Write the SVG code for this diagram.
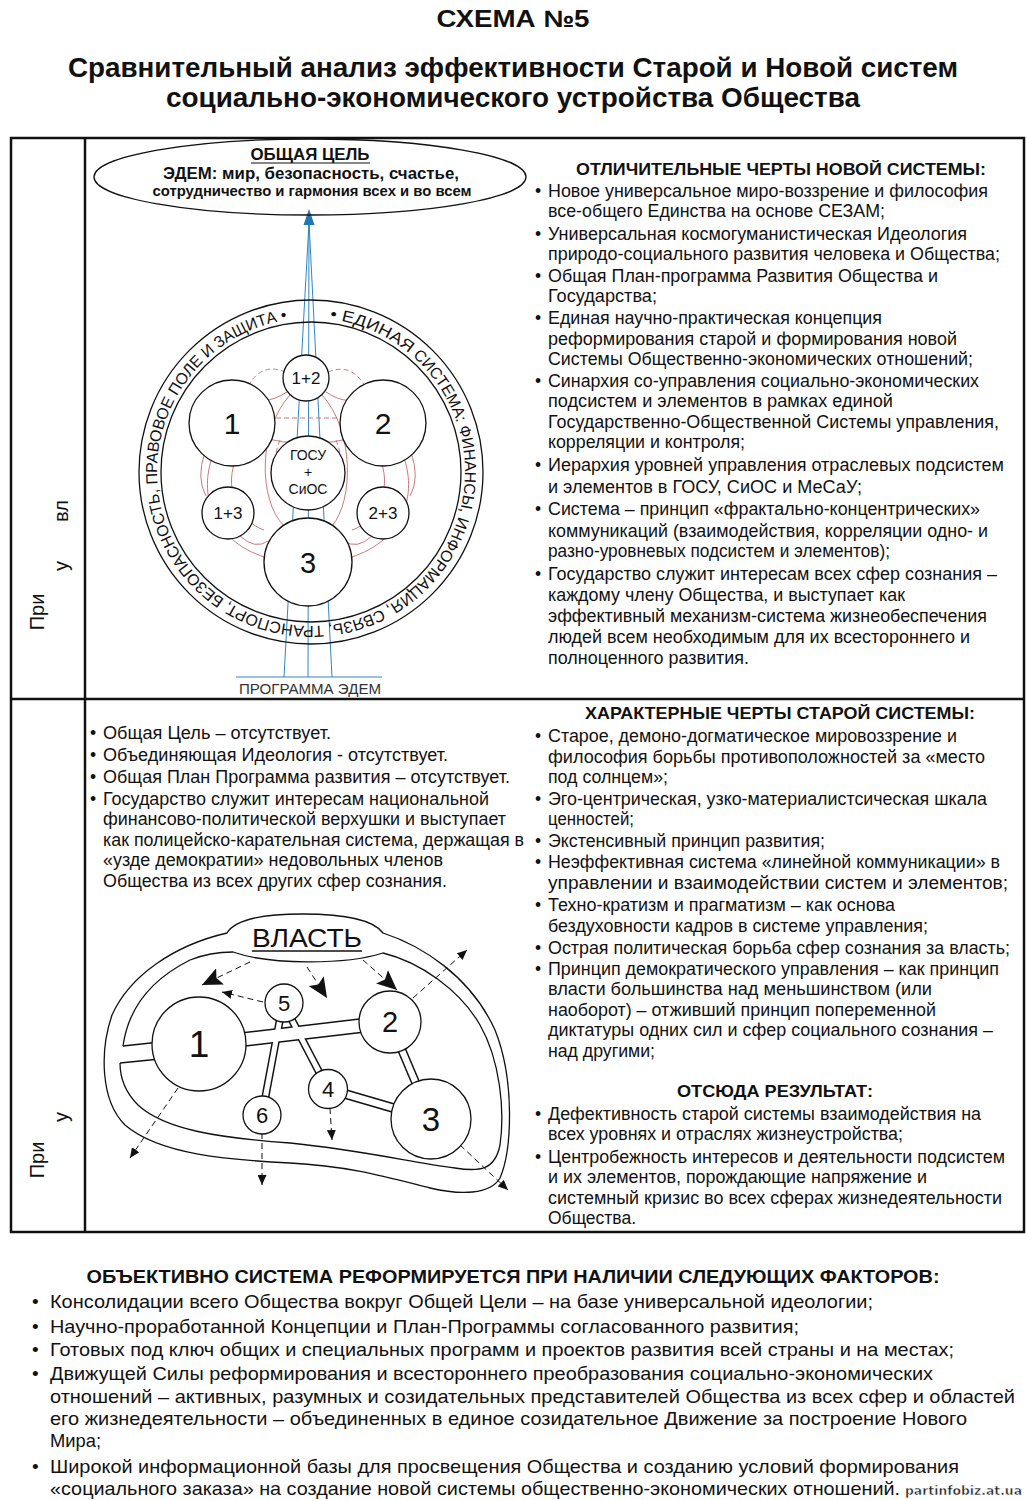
<svg xmlns="http://www.w3.org/2000/svg" width="1027" height="1500" viewBox="0 0 1027 1500">
<defs>
<style>
.f{font-family:"Liberation Sans",Arial,"DejaVu Sans",sans-serif;fill:#111}
.b{font-weight:bold}
.tx{font-size:17.5px}
.hd{font-size:17px;font-weight:bold}
.bt{font-size:19px}
.rt{font-size:16px}
.c{fill:#fff;stroke:#111;stroke-width:1.3}
.ln{fill:none;stroke:#111;stroke-width:1.3}
.red{fill:none;stroke:#c46a6a;stroke-width:0.9}
.rd{fill:none;stroke:#c46a6a;stroke-width:0.9;stroke-dasharray:5 3}
.blue{fill:none;stroke:#2e86c1;stroke-width:1}
.rb{fill:none;stroke:#111;stroke-linecap:butt}
.rw{fill:none;stroke:#fff;stroke-linecap:butt}
.da{fill:none;stroke:#111;stroke-width:1;stroke-dasharray:6 4}
</style>
<marker id="big" markerUnits="userSpaceOnUse" markerWidth="22" markerHeight="18" refX="20" refY="9" orient="auto"><path d="M0,0 L20,9 L0,18 L4,9 z" fill="#111"/></marker>
<marker id="sm" markerUnits="userSpaceOnUse" markerWidth="11" markerHeight="9" refX="10" refY="4.5" orient="auto"><path d="M0,0 L10,4.5 L0,9 z" fill="#111"/></marker>
<path id="ringPath" d="M 311 318 A 154 154 0 1 1 311 626 A 154 154 0 1 1 311 318"/>
</defs>
<rect width="1027" height="1500" fill="#fff"/>

<g id="title">
<text class="f b" x="513" y="27" font-size="24" text-anchor="middle" textLength="153" lengthAdjust="spacingAndGlyphs">СХЕМА №5</text>
<text class="f b" x="513" y="77" font-size="27" text-anchor="middle" textLength="890" lengthAdjust="spacingAndGlyphs">Сравнительный анализ эффективности Старой и Новой систем</text>
<text class="f b" x="513" y="107" font-size="27" text-anchor="middle" textLength="694" lengthAdjust="spacingAndGlyphs">социально-экономического устройства Общества</text>
</g>

<g id="frame">
<rect x="11" y="138" width="1013" height="1094" fill="none" stroke="#111" stroke-width="2.5"/>
<line x1="85" y1="138" x2="85" y2="1232" stroke="#111" stroke-width="2.5"/>
<line x1="11" y1="699" x2="1024" y2="699" stroke="#111" stroke-width="2.5"/>
<text class="f" font-size="20" transform="translate(44,612) rotate(-90)" text-anchor="middle">При</text>
<text class="f" font-size="20" transform="translate(68,566) rotate(-90)" text-anchor="middle">у</text>
<text class="f" font-size="20" transform="translate(68,511) rotate(-90)" text-anchor="middle">вл</text>
<text class="f" font-size="20" transform="translate(44,1160) rotate(-90)" text-anchor="middle">При</text>
<text class="f" font-size="20" transform="translate(68,1117) rotate(-90)" text-anchor="middle">у</text>
</g>

<!-- ===== New system diagram ===== -->
<g id="connectors-new">
<line class="blue" x1="284" y1="677" x2="309" y2="222"/>
<line class="blue" x1="308" y1="677" x2="309" y2="222"/>
<line class="blue" x1="332" y1="677" x2="309" y2="222"/>
<polygon points="309,209 303.5,225 314.5,225" fill="#1f78b4"/>
<path class="rd" d="M 248 386 Q 262 362 285 372"/>
<path class="rd" d="M 328 372 Q 352 362 366 388"/>
<path class="red" d="M 245 394 Q 262 408 287 392"/>
<path class="red" d="M 326 392 Q 350 408 368 394"/>
<path class="rd" d="M 276 418 L 341 418"/>
<path class="red" d="M 258 437 Q 308 450 358 437"/>
<path class="red" d="M 213 455 C 196 500 218 548 276 560"/>
<path class="red" d="M 235 462 C 224 490 240 522 264 530"/>
<path class="red" d="M 240 536 Q 255 550 268 541"/>
<path class="red" d="M 403 455 C 420 500 398 548 340 560"/>
<path class="red" d="M 381 462 C 392 490 376 522 352 530"/>
<path class="red" d="M 372 536 Q 357 550 344 541"/>
<path class="red" d="M 290 395 C 258 430 258 500 284 526"/>
<path class="red" d="M 322 395 C 354 430 354 500 332 526"/>
<path class="red" d="M 205 452 Q 196 478 206 496"/>
<path class="red" d="M 411 452 Q 420 478 410 496"/>
<path class="rd" d="M 280 440 Q 268 470 282 500"/>
<path class="rd" d="M 336 440 Q 348 470 334 500"/>
</g>

<g id="goal">
<ellipse cx="310" cy="177" rx="216" ry="38" class="ln" stroke-width="1.2"/>
<text class="f b" x="310" y="160" font-size="16" text-anchor="middle" textLength="119" lengthAdjust="spacingAndGlyphs">ОБЩАЯ ЦЕЛЬ</text>
<line x1="251" y1="163" x2="370" y2="163" stroke="#111" stroke-width="1.2"/>
<text class="f b" x="311" y="179" font-size="16" text-anchor="middle" textLength="296" lengthAdjust="spacingAndGlyphs">ЭДЕМ: мир, безопасность, счастье,</text>
<text class="f b" x="312" y="196" font-size="15" text-anchor="middle" textLength="319" lengthAdjust="spacingAndGlyphs">сотрудничество и гармония всех и во всем</text>
</g>

<g id="program">
<line x1="236" y1="677" x2="382" y2="677" stroke="#2e86c1" stroke-width="1"/>
<text class="f" x="310" y="694" font-size="15" style="fill:#333" text-anchor="middle" textLength="142" lengthAdjust="spacingAndGlyphs">ПРОГРАММА ЭДЕМ</text>
</g>

<g id="ring">
<circle cx="311" cy="472" r="172" class="ln"/>
<circle cx="311" cy="472" r="150" class="ln"/>
<text class="f rt"><textPath href="#ringPath" startOffset="18.8" textLength="87.5" lengthAdjust="spacingAndGlyphs">• ЕДИНАЯ</textPath></text>
<text class="f rt"><textPath href="#ringPath" startOffset="110.6" textLength="81.2" lengthAdjust="spacingAndGlyphs">СИСТЕМА:</textPath></text>
<text class="f rt"><textPath href="#ringPath" startOffset="196.1" textLength="86.2" lengthAdjust="spacingAndGlyphs">ФИНАНСЫ,</textPath></text>
<text class="f rt"><textPath href="#ringPath" startOffset="286.6" textLength="119.3" lengthAdjust="spacingAndGlyphs">ИНФОРМАЦИЯ,</textPath></text>
<text class="f rt"><textPath href="#ringPath" startOffset="410.2" textLength="56.5" lengthAdjust="spacingAndGlyphs">СВЯЗЬ,</textPath></text>
<text class="f rt"><textPath href="#ringPath" startOffset="471" textLength="100.1" lengthAdjust="spacingAndGlyphs">ТРАНСПОРТ,</textPath></text>
<text class="f rt"><textPath href="#ringPath" startOffset="575.4" textLength="133.3" lengthAdjust="spacingAndGlyphs">БЕЗОПАСНОСТЬ,</textPath></text>
<text class="f rt"><textPath href="#ringPath" startOffset="713" textLength="87.2" lengthAdjust="spacingAndGlyphs">ПРАВОВОЕ</textPath></text>
<text class="f rt"><textPath href="#ringPath" startOffset="804.5" textLength="43.9" lengthAdjust="spacingAndGlyphs">ПОЛЕ</textPath></text>
<text class="f rt"><textPath href="#ringPath" startOffset="852.7" textLength="11.2" lengthAdjust="spacingAndGlyphs">И</textPath></text>
<text class="f rt"><textPath href="#ringPath" startOffset="868.2" textLength="75.2" lengthAdjust="spacingAndGlyphs">ЗАЩИТА •</textPath></text>
</g>

<g id="n-1-2"><circle class="c" cx="306" cy="378" r="23"/><text class="f" x="306" y="384" font-size="17" text-anchor="middle">1+2</text></g>
<g id="n-1"><circle class="c" cx="232" cy="423" r="43"/><text class="f" x="232" y="434" font-size="30" text-anchor="middle">1</text></g>
<g id="n-2"><circle class="c" cx="383" cy="423" r="43"/><text class="f" x="383" y="434" font-size="30" text-anchor="middle">2</text></g>
<g id="n-gosu"><circle class="c" cx="308" cy="473" r="37"/>
<text class="f" x="308" y="460" font-size="14" text-anchor="middle">ГОСУ</text>
<text class="f" x="308" y="477" font-size="14" text-anchor="middle">+</text>
<text class="f" x="308" y="494" font-size="14" text-anchor="middle">СиОС</text></g>
<g id="n-1-3"><circle class="c" cx="228" cy="513" r="26"/><text class="f" x="228" y="519" font-size="17" text-anchor="middle">1+3</text></g>
<g id="n-2-3"><circle class="c" cx="383" cy="513" r="26"/><text class="f" x="383" y="519" font-size="17" text-anchor="middle">2+3</text></g>
<g id="n-3"><circle class="c" cx="308" cy="562" r="44"/><text class="f" x="308" y="573" font-size="29" text-anchor="middle">3</text></g>

<!-- ===== New system features ===== -->
<g id="new-features">
<text class="f hd" x="781" y="175" text-anchor="middle" textLength="410" lengthAdjust="spacingAndGlyphs">ОТЛИЧИТЕЛЬНЫЕ ЧЕРТЫ НОВОЙ СИСТЕМЫ:</text>
<g class="f tx">
<text x="535" y="197">•</text><text x="548" y="197" textLength="440" lengthAdjust="spacingAndGlyphs">Новое универсальное миро-воззрение и философия</text>
<text x="548" y="217" textLength="337" lengthAdjust="spacingAndGlyphs">все-общего Единства на основе СЕЗАМ;</text>
<text x="535" y="240">•</text><text x="548" y="240" textLength="419" lengthAdjust="spacingAndGlyphs">Универсальная космогуманистическая Идеология</text>
<text x="548" y="260" textLength="452" lengthAdjust="spacingAndGlyphs">природо-социального развития человека и Общества;</text>
<text x="535" y="282">•</text><text x="548" y="282" textLength="390" lengthAdjust="spacingAndGlyphs">Общая План-программа Развития Общества и</text>
<text x="548" y="302" textLength="109" lengthAdjust="spacingAndGlyphs">Государства;</text>
<text x="535" y="324">•</text><text x="548" y="324" textLength="334" lengthAdjust="spacingAndGlyphs">Единая научно-практическая концепция</text>
<text x="548" y="345" textLength="409" lengthAdjust="spacingAndGlyphs">реформирования старой и формирования новой</text>
<text x="548" y="365" textLength="425" lengthAdjust="spacingAndGlyphs">Системы Общественно-экономических отношений;</text>
<text x="535" y="387">•</text><text x="548" y="387" textLength="431" lengthAdjust="spacingAndGlyphs">Синархия со-управления социально-экономических</text>
<text x="548" y="407" textLength="345" lengthAdjust="spacingAndGlyphs">подсистем и элементов в рамках единой</text>
<text x="548" y="428" textLength="451" lengthAdjust="spacingAndGlyphs">Государственно-Общественной Системы управления,</text>
<text x="548" y="448" textLength="197" lengthAdjust="spacingAndGlyphs">корреляции и контроля;</text>
<text x="535" y="471">•</text><text x="548" y="471" textLength="456" lengthAdjust="spacingAndGlyphs">Иерархия уровней управления отраслевых подсистем</text>
<text x="548" y="493" textLength="314" lengthAdjust="spacingAndGlyphs">и элементов в ГОСУ, СиОС и МеСаУ;</text>
<text x="535" y="515">•</text><text x="548" y="515" textLength="432" lengthAdjust="spacingAndGlyphs">Система – принцип «фрактально-концентрических»</text>
<text x="548" y="537" textLength="440" lengthAdjust="spacingAndGlyphs">коммуникаций (взаимодействия, корреляции одно- и</text>
<text x="548" y="557" textLength="342" lengthAdjust="spacingAndGlyphs">разно-уровневых подсистем и элементов);</text>
<text x="535" y="580">•</text><text x="548" y="580" textLength="449" lengthAdjust="spacingAndGlyphs">Государство служит интересам всех сфер сознания –</text>
<text x="548" y="601" textLength="357" lengthAdjust="spacingAndGlyphs">каждому члену Общества, и выступает как</text>
<text x="548" y="622" textLength="439" lengthAdjust="spacingAndGlyphs">эффективный механизм-система жизнеобеспечения</text>
<text x="548" y="643" textLength="422" lengthAdjust="spacingAndGlyphs">людей всем необходимым для их всестороннего и</text>
<text x="548" y="664" textLength="201" lengthAdjust="spacingAndGlyphs">полноценного развития.</text>
</g>
</g>

<!-- ===== Old system features ===== -->
<g id="old-features">
<text class="f hd" x="780" y="719" text-anchor="middle" textLength="390" lengthAdjust="spacingAndGlyphs">ХАРАКТЕРНЫЕ ЧЕРТЫ СТАРОЙ СИСТЕМЫ:</text>
<g class="f tx">
<text x="535" y="742">•</text><text x="548" y="742" textLength="409" lengthAdjust="spacingAndGlyphs">Старое, демоно-догматическое мировоззрение и</text>
<text x="548" y="763" textLength="437" lengthAdjust="spacingAndGlyphs">философия борьбы противоположностей за «место</text>
<text x="548" y="783" textLength="120" lengthAdjust="spacingAndGlyphs">под солнцем»;</text>
<text x="535" y="805">•</text><text x="548" y="805" textLength="439" lengthAdjust="spacingAndGlyphs">Эго-центрическая, узко-материалистсическая шкала</text>
<text x="548" y="825" textLength="86" lengthAdjust="spacingAndGlyphs">ценностей;</text>
<text x="535" y="847">•</text><text x="548" y="847" textLength="277" lengthAdjust="spacingAndGlyphs">Экстенсивный принцип развития;</text>
<text x="535" y="868">•</text><text x="548" y="868" textLength="452" lengthAdjust="spacingAndGlyphs">Неэффективная система «линейной коммуникации» в</text>
<text x="548" y="889" textLength="460" lengthAdjust="spacingAndGlyphs">управлении и взаимодействии систем и элементов;</text>
<text x="535" y="911">•</text><text x="548" y="911" textLength="347" lengthAdjust="spacingAndGlyphs">Техно-кратизм и прагматизм – как основа</text>
<text x="548" y="932" textLength="380" lengthAdjust="spacingAndGlyphs">бездуховности кадров в системе управления;</text>
<text x="535" y="954">•</text><text x="548" y="954" textLength="462" lengthAdjust="spacingAndGlyphs">Острая политическая борьба сфер сознания за власть;</text>
<text x="535" y="975">•</text><text x="548" y="975" textLength="451" lengthAdjust="spacingAndGlyphs">Принцип демократического управления – как принцип</text>
<text x="548" y="995" textLength="384" lengthAdjust="spacingAndGlyphs">власти большинства над  меньшинством (или</text>
<text x="548" y="1016" textLength="388" lengthAdjust="spacingAndGlyphs">наоборот) – отживший принцип попеременной</text>
<text x="548" y="1036" textLength="445" lengthAdjust="spacingAndGlyphs">диктатуры одних сил и сфер социального сознания –</text>
<text x="548" y="1057" textLength="107" lengthAdjust="spacingAndGlyphs">над другими;</text>
</g>
<text class="f hd" x="775" y="1097" text-anchor="middle" textLength="196" lengthAdjust="spacingAndGlyphs">ОТСЮДА РЕЗУЛЬТАТ:</text>
<g class="f tx">
<text x="535" y="1120">•</text><text x="548" y="1120" textLength="433" lengthAdjust="spacingAndGlyphs">Дефективность старой системы взаимодействия на</text>
<text x="548" y="1140" textLength="355" lengthAdjust="spacingAndGlyphs">всех уровнях и отраслях жизнеустройства;</text>
<text x="535" y="1163">•</text><text x="548" y="1163" textLength="457" lengthAdjust="spacingAndGlyphs">Центробежность интересов и деятельности подсистем</text>
<text x="548" y="1183" textLength="379" lengthAdjust="spacingAndGlyphs">и их элементов, порождающие напряжение и</text>
<text x="548" y="1204" textLength="454" lengthAdjust="spacingAndGlyphs">системный кризис во всех сферах жизнедеятельности</text>
<text x="548" y="1224" textLength="88" lengthAdjust="spacingAndGlyphs">Общества.</text>
</g>
</g>

<g id="old-absent">
<g class="f tx">
<text x="90" y="739">•</text><text x="103" y="739" textLength="228" lengthAdjust="spacingAndGlyphs">Общая Цель – отсутствует.</text>
<text x="90" y="761">•</text><text x="103" y="761" textLength="345" lengthAdjust="spacingAndGlyphs">Объединяющая Идеология - отсутствует.</text>
<text x="90" y="783">•</text><text x="103" y="783" textLength="407" lengthAdjust="spacingAndGlyphs">Общая План Программа развития – отсутствует.</text>
<text x="90" y="805">•</text><text x="103" y="805" textLength="386" lengthAdjust="spacingAndGlyphs">Государство служит интересам национальной</text>
<text x="103" y="825" textLength="403" lengthAdjust="spacingAndGlyphs">финансово-политической верхушки и выступает</text>
<text x="103" y="846" textLength="421" lengthAdjust="spacingAndGlyphs">как полицейско-карательная система, держащая в</text>
<text x="103" y="866" textLength="340" lengthAdjust="spacingAndGlyphs">«узде демократии» недовольных членов</text>
<text x="103" y="887" textLength="344" lengthAdjust="spacingAndGlyphs">Общества из всех других сфер сознания.</text>
</g>
</g>

<!-- ===== Old system diagram ===== -->
<g id="vlast">
<path class="ln" d="M 227 933 C 236 918 270 914 303 914 C 340 914 372 918 383 933 C 420 945 470 975 495 1030 C 515 1080 512 1150 500 1178 C 490 1195 460 1195 430 1188 C 390 1178 350 1166 290 1163 C 230 1160 160 1155 125 1125 C 100 1100 100 1050 112 1015 C 130 975 175 945 227 933 Z"/>
<path class="ln" d="M 123 1046 C 128 1010 150 980 190 960 C 205 954 220 952 233 952 C 270 965 345 965 383 953 C 420 962 460 990 480 1025 C 500 1060 505 1110 500 1145 C 495 1170 480 1172 455 1168 C 410 1162 360 1150 290 1143 C 220 1138 165 1130 138 1105 C 125 1092 120 1078 120 1063"/>
<text class="f" x="307" y="947" font-size="25" text-anchor="middle" textLength="110" lengthAdjust="spacingAndGlyphs">ВЛАСТЬ</text>
<line x1="252" y1="951" x2="362" y2="951" stroke="#111" stroke-width="1.3"/>
</g>

<g id="connectors-old">
<line class="ln" x1="123" y1="1046" x2="160" y2="1042"/>
<line class="ln" x1="120" y1="1063" x2="160" y2="1059"/>
<line class="rb" stroke-width="15" x1="230" y1="1041" x2="375" y2="1024"/>
<line class="rb" stroke-width="8" x1="283" y1="1003" x2="262" y2="1115"/>
<line class="rb" stroke-width="8" x1="283" y1="1003" x2="328" y2="1089"/>
<line class="rb" stroke-width="9" x1="390" y1="1022" x2="431" y2="1119"/>
<line class="rb" stroke-width="10" x1="328" y1="1089" x2="431" y2="1119"/>
<line class="rw" stroke-width="12" x1="230" y1="1041" x2="375" y2="1024"/>
<line class="rw" stroke-width="5" x1="283" y1="1003" x2="262" y2="1115"/>
<line class="rw" stroke-width="5" x1="283" y1="1003" x2="328" y2="1089"/>
<line class="rw" stroke-width="6" x1="390" y1="1022" x2="431" y2="1119"/>
<line class="rw" stroke-width="7" x1="328" y1="1089" x2="431" y2="1119"/>
<line class="da" x1="250" y1="962" x2="202" y2="985" marker-end="url(#big)"/>
<line class="da" x1="307" y1="967" x2="327" y2="998" marker-end="url(#big)"/>
<line class="da" x1="363" y1="960" x2="397" y2="990" marker-end="url(#big)"/>
<line class="da" x1="263" y1="1002" x2="222" y2="992" marker-end="url(#sm)"/>
<line class="da" x1="413" y1="998" x2="467" y2="950" marker-end="url(#sm)"/>
<line class="da" x1="178" y1="1088" x2="130" y2="1158" marker-end="url(#sm)"/>
<line class="da" x1="262" y1="1133" x2="262" y2="1185" marker-end="url(#sm)"/>
<line class="da" x1="330" y1="1108" x2="332" y2="1140" marker-end="url(#sm)"/>
<line class="da" x1="460" y1="1145" x2="508" y2="1190" marker-end="url(#sm)"/>
</g>

<g id="o-1"><circle class="c" cx="199" cy="1044" r="47"/><text class="f" x="199" y="1057" font-size="37" text-anchor="middle">1</text></g>
<g id="o-2"><circle class="c" cx="390" cy="1022" r="31"/><text class="f" x="390" y="1032" font-size="29" text-anchor="middle">2</text></g>
<g id="o-3"><circle class="c" cx="431" cy="1119" r="40"/><text class="f" x="431" y="1131" font-size="33" text-anchor="middle">3</text></g>
<g id="o-4"><circle class="c" cx="328" cy="1089" r="19.5"/><text class="f" x="328" y="1097" font-size="22" text-anchor="middle">4</text></g>
<g id="o-5"><circle class="c" cx="284" cy="1003" r="19"/><text class="f" x="284" y="1011" font-size="22" text-anchor="middle">5</text></g>
<g id="o-6"><circle class="c" cx="262" cy="1115" r="19"/><text class="f" x="262" y="1123" font-size="22" text-anchor="middle">6</text></g>

<!-- ===== Bottom factors ===== -->
<g id="factors">
<text class="f b" x="513" y="1283" font-size="18" text-anchor="middle" textLength="853" lengthAdjust="spacingAndGlyphs">ОБЪЕКТИВНО СИСТЕМА РЕФОРМИРУЕТСЯ ПРИ НАЛИЧИИ СЛЕДУЮЩИХ ФАКТОРОВ:</text>
<g class="f bt">
<text x="32" y="1308">•</text><text x="50" y="1308" textLength="823" lengthAdjust="spacingAndGlyphs">Консолидации всего Общества вокруг Общей Цели – на базе универсальной идеологии;</text>
<text x="32" y="1333">•</text><text x="50" y="1333" textLength="749" lengthAdjust="spacingAndGlyphs">Научно-проработанной Концепции и План-Программы согласованного развития;</text>
<text x="32" y="1356">•</text><text x="50" y="1356" textLength="904" lengthAdjust="spacingAndGlyphs">Готовых под ключ общих и специальных программ и проектов развития всей страны и на местах;</text>
<text x="32" y="1380">•</text><text x="50" y="1380" textLength="883" lengthAdjust="spacingAndGlyphs">Движущей Силы реформирования и всестороннего преобразования социально-экономических</text>
<text x="50" y="1403" textLength="965" lengthAdjust="spacingAndGlyphs">отношений – активных, разумных и созидательных представителей Общества из всех сфер и областей</text>
<text x="50" y="1425" textLength="917" lengthAdjust="spacingAndGlyphs">его жизнедеятельности – объединенных в единое созидательное Движение за построение Нового</text>
<text x="50" y="1447" textLength="51" lengthAdjust="spacingAndGlyphs">Мира;</text>
<text x="32" y="1473">•</text><text x="50" y="1473" textLength="909" lengthAdjust="spacingAndGlyphs">Широкой информационной базы для просвещения Общества и созданию условий формирования</text>
<text x="50" y="1495" textLength="850" lengthAdjust="spacingAndGlyphs">«социального заказа» на создание новой системы общественно-экономических отношений.</text>
</g>
<text x="905" y="1495" font-family="'DejaVu Sans',sans-serif" font-weight="bold" font-size="13" fill="#222" stroke="#fff" stroke-width="0.5" textLength="117" lengthAdjust="spacingAndGlyphs">partinfobiz.at.ua</text>
</g>
</svg>
